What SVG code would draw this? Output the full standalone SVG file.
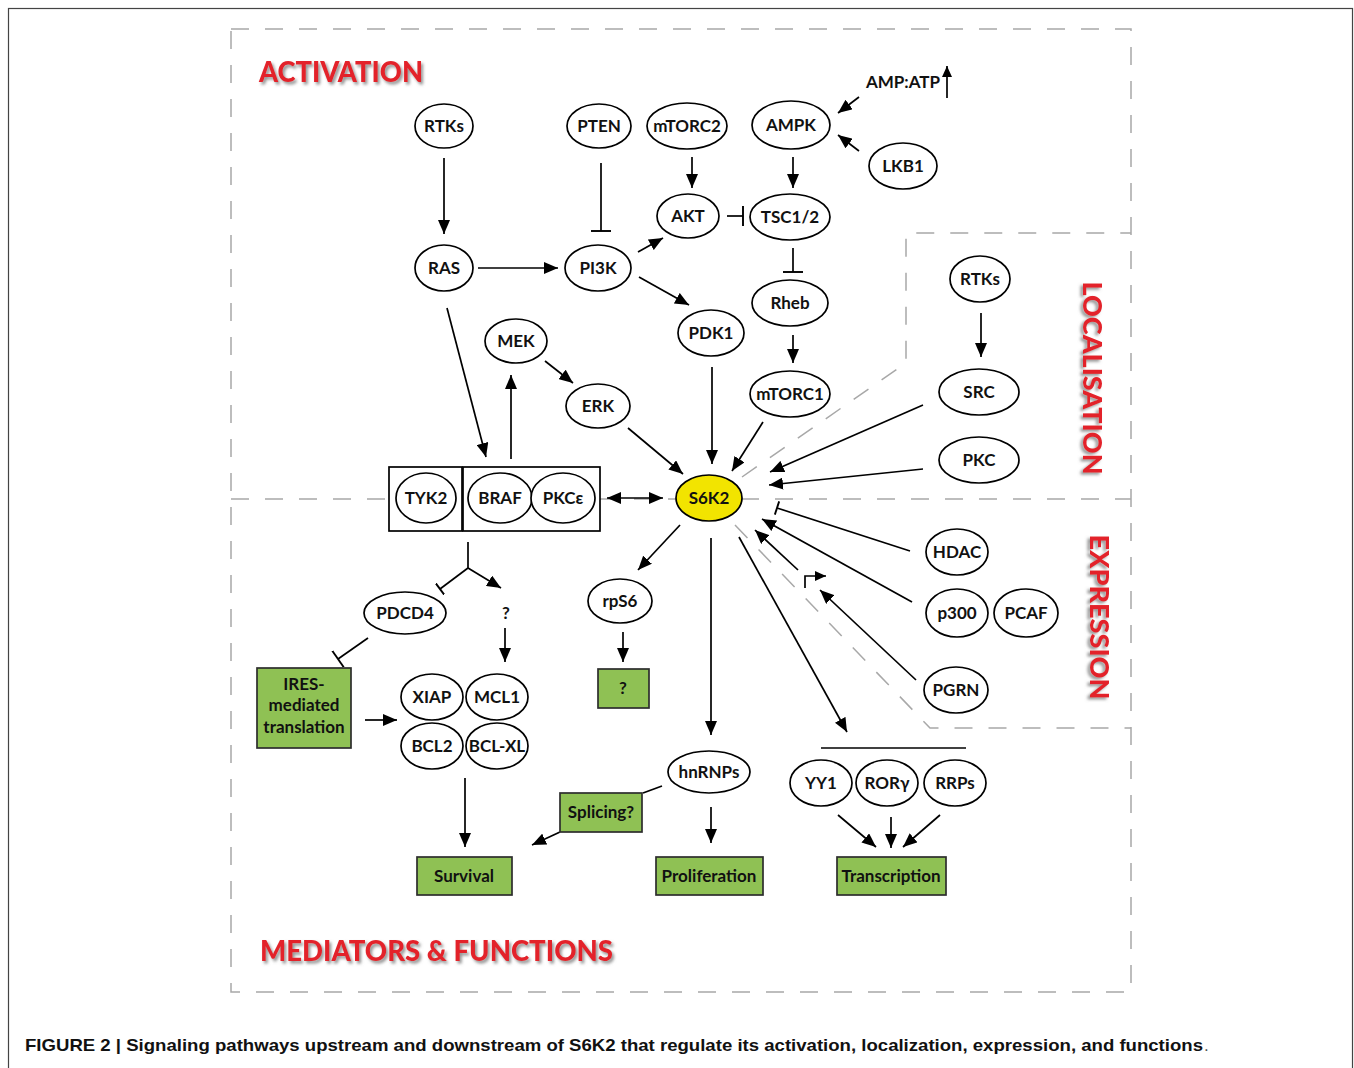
<svg xmlns="http://www.w3.org/2000/svg" width="1354" height="1068" viewBox="0 0 1354 1068">
<defs>
<style>
.n{fill:#fff;stroke:#000;stroke-width:1.7}
.y{fill:#f2e400;stroke:#000;stroke-width:1.7}
.g{fill:#8fc154;stroke:#2d2d2d;stroke-width:1.7}
.bx{fill:none;stroke:#000;stroke-width:1.7}
.t{font-family:Lato,"Open Sans","DejaVu Sans",sans-serif;font-weight:700;font-size:17px;text-anchor:middle;fill:#111}
.c path{fill:none;stroke:#000;stroke-width:1.7}
.d{fill:none;stroke:#a8a8a8;stroke-width:1.5;stroke-dasharray:18 16}
.h{font-family:Lato,"Open Sans",sans-serif;font-weight:900;fill:#e3242b;filter:url(#sh)}
</style>
<filter id="sh" x="-10%" y="-30%" width="130%" height="170%">
<feDropShadow dx="2" dy="2.5" stdDeviation="1.6" flood-color="#777" flood-opacity="0.8"/>
</filter>
<marker id="a" viewBox="0 0 14 12" refX="14" refY="6" markerWidth="14" markerHeight="12" orient="auto-start-reverse" markerUnits="userSpaceOnUse"><path d="M0,0 L14,6 L0,12 z" fill="#000"/></marker>
<marker id="as" viewBox="0 0 11 10" refX="11" refY="5" markerWidth="11" markerHeight="10" orient="auto" markerUnits="userSpaceOnUse"><path d="M0,0 L11,5 L0,10 z" fill="#000"/></marker>
<marker id="tee" viewBox="0 0 4 20" refX="2" refY="10" markerWidth="4" markerHeight="20" orient="auto" markerUnits="userSpaceOnUse"><line x1="2" y1="0" x2="2" y2="20" stroke="#000" stroke-width="1.9"/></marker>
<marker id="tees" viewBox="0 0 4 14" refX="2" refY="7" markerWidth="4" markerHeight="14" orient="auto" markerUnits="userSpaceOnUse"><line x1="2" y1="0" x2="2" y2="14" stroke="#000" stroke-width="1.9"/></marker>
</defs>
<rect width="1354" height="1068" fill="#fff"/>
<rect x="8.5" y="8.5" width="1344" height="1100" fill="none" stroke="#444" stroke-width="1.2"/>

<g id="regions">
<rect class="d" x="231" y="29" width="900" height="963"/>
<path class="d" d="M231,499 H389"/>
<path class="d" d="M600,499 H677"/>
<path class="d" d="M741,499 H1131"/>
<path class="d" d="M742,477 L906,363 L906,233 L1131,233"/>
<path class="d" d="M735,525 L930,728 L1131,728"/>
</g>

<g id="titles">
<text class="h" x="259" y="82" font-size="29" textLength="164" lengthAdjust="spacingAndGlyphs">ACTIVATION</text>
<text class="h" x="260" y="961" font-size="29" textLength="353" lengthAdjust="spacingAndGlyphs">MEDIATORS &amp; FUNCTIONS</text>
<text class="h" font-size="27" text-anchor="middle" transform="translate(1093,378) rotate(90)" y="10" textLength="193" lengthAdjust="spacingAndGlyphs">LOCALISATION</text>
<text class="h" font-size="27" text-anchor="middle" transform="translate(1100,617) rotate(90)" y="10" textLength="165" lengthAdjust="spacingAndGlyphs">EXPRESSION</text>
</g>

<g id="connectors" class="c">
<path d="M444,158 V234" marker-end="url(#a)"/>
<path d="M601,163 V231" marker-end="url(#tee)"/>
<path d="M478,268 H558" marker-end="url(#a)"/>
<path d="M638,252 L663,238" marker-end="url(#a)"/>
<path d="M639,277 L689,305" marker-end="url(#a)"/>
<path d="M692,157 V188" marker-end="url(#a)"/>
<path d="M793,157 V188" marker-end="url(#a)"/>
<path d="M727,216 H743" marker-end="url(#tee)"/>
<path d="M793,248 V272" marker-end="url(#tee)"/>
<path d="M859,97 L838,113" marker-end="url(#a)"/>
<path d="M859,151 L838,135" marker-end="url(#a)"/>
<path d="M947,98 V66" marker-end="url(#as)"/>
<path d="M793,335 V363" marker-end="url(#a)"/>
<path d="M447,308 L486,457" marker-end="url(#a)"/>
<path d="M511,459 V375" marker-end="url(#a)"/>
<path d="M545,361 L573,383" marker-end="url(#a)"/>
<path d="M628,428 L683,474" marker-end="url(#a)"/>
<path d="M712,367 V464" marker-end="url(#a)"/>
<path d="M763,422 L732,471" marker-end="url(#a)"/>
<path d="M981,313 V357" marker-end="url(#a)"/>
<path d="M923,405 L770,472" marker-end="url(#a)"/>
<path d="M923,469 L769,485" marker-end="url(#a)"/>
<path d="M607,498 H663" marker-start="url(#a)" marker-end="url(#a)"/>
<path d="M910,551 L777,508" marker-end="url(#tees)"/>
<path d="M912,602 L762,519" marker-end="url(#a)"/>
<path d="M798,570 L755,530" marker-end="url(#a)"/>
<path d="M805,588 V576 H826" marker-end="url(#as)"/>
<path d="M916,680 L820,590" stroke-width="2.5" marker-end="url(#a)"/>
<path d="M739,537 L847,732" marker-end="url(#a)"/>
<path d="M821,748 H966"/>
<path d="M838,815 L876,847" marker-end="url(#a)"/>
<path d="M891,817 V848" marker-end="url(#a)"/>
<path d="M940,815 L903,847" marker-end="url(#a)"/>
<path d="M680,525 L638,570" marker-end="url(#a)"/>
<path d="M623,632 V662" marker-end="url(#a)"/>
<path d="M711,538 V735" marker-end="url(#a)"/>
<path d="M711,807 V843" marker-end="url(#a)"/>
<path d="M662,786 L643,793"/>
<path d="M560,832 L532,845" marker-end="url(#a)"/>
<path d="M465,778 V847" marker-end="url(#a)"/>
<path d="M365,720 H397" marker-end="url(#a)"/>
<path d="M368,638 L338,659" marker-end="url(#tee)"/>
<path d="M468,542 V568"/>
<path d="M468,568 L440,589" marker-end="url(#tees)"/>
<path d="M468,568 L501,588" marker-end="url(#a)"/>
<path d="M505,628 V662" marker-end="url(#a)"/>
</g>

<g id="node-rtks1"><ellipse class="n" cx="444" cy="126" rx="29" ry="22"/><text class="t" x="444" y="132">RTKs</text></g>
<g id="node-pten"><ellipse class="n" cx="599" cy="126" rx="32" ry="22"/><text class="t" x="599" y="132">PTEN</text></g>
<g id="node-mtorc2"><ellipse class="n" cx="687" cy="126" rx="40" ry="23"/><text class="t" x="687" y="132">mTORC2</text></g>
<g id="node-ampk"><ellipse class="n" cx="791" cy="125" rx="39" ry="24"/><text class="t" x="791" y="131">AMPK</text></g>
<g id="node-ampatp"><text class="t" x="903" y="88">AMP:ATP</text></g>
<g id="node-lkb1"><ellipse class="n" cx="903" cy="166" rx="34" ry="23"/><text class="t" x="903" y="172">LKB1</text></g>
<g id="node-akt"><ellipse class="n" cx="688" cy="216" rx="31" ry="22"/><text class="t" x="688" y="222">AKT</text></g>
<g id="node-tsc"><ellipse class="n" cx="790" cy="217" rx="40" ry="23"/><text class="t" x="790" y="223">TSC1/2</text></g>
<g id="node-ras"><ellipse class="n" cx="444" cy="268" rx="29" ry="23"/><text class="t" x="444" y="274">RAS</text></g>
<g id="node-pi3k"><ellipse class="n" cx="598" cy="268" rx="33" ry="23"/><text class="t" x="598" y="274">PI3K</text></g>
<g id="node-rheb"><ellipse class="n" cx="790" cy="303" rx="38" ry="23"/><text class="t" x="790" y="309">Rheb</text></g>
<g id="node-pdk1"><ellipse class="n" cx="711" cy="333" rx="33" ry="23"/><text class="t" x="711" y="339">PDK1</text></g>
<g id="node-mek"><ellipse class="n" cx="516" cy="341" rx="31" ry="22"/><text class="t" x="516" y="347">MEK</text></g>
<g id="node-erk"><ellipse class="n" cx="598" cy="406" rx="32" ry="22"/><text class="t" x="598" y="412">ERK</text></g>
<g id="node-mtorc1"><ellipse class="n" cx="790" cy="394" rx="40" ry="23"/><text class="t" x="790" y="400">mTORC1</text></g>
<g id="node-rtks2"><ellipse class="n" cx="980" cy="279" rx="30" ry="23"/><text class="t" x="980" y="285">RTKs</text></g>
<g id="node-src"><ellipse class="n" cx="979" cy="392" rx="40" ry="23"/><text class="t" x="979" y="398">SRC</text></g>
<g id="node-pkc"><ellipse class="n" cx="979" cy="460" rx="40" ry="23"/><text class="t" x="979" y="466">PKC</text></g>
<g id="node-s6k2"><ellipse class="y" cx="709" cy="498" rx="33" ry="23"/><text class="t" x="709" y="504">S6K2</text></g>
<g id="node-complex">
<rect class="bx" x="389" y="467" width="73" height="64"/>
<rect class="bx" x="463" y="467" width="137" height="64"/>
<ellipse class="n" cx="426" cy="498" rx="30" ry="25"/><text class="t" x="426" y="504">TYK2</text>
<ellipse class="n" cx="500" cy="498" rx="32" ry="25"/><text class="t" x="500" y="504">BRAF</text>
<ellipse class="n" cx="563" cy="498" rx="32" ry="25"/><text class="t" x="563" y="504">PKCε</text>
</g>
<g id="node-hdac"><ellipse class="n" cx="957" cy="552" rx="31" ry="23"/><text class="t" x="957" y="558">HDAC</text></g>
<g id="node-p300"><ellipse class="n" cx="957" cy="613" rx="31" ry="24"/><text class="t" x="957" y="619">p300</text></g>
<g id="node-pcaf"><ellipse class="n" cx="1026" cy="613" rx="32" ry="24"/><text class="t" x="1026" y="619">PCAF</text></g>
<g id="node-pgrn"><ellipse class="n" cx="956" cy="690" rx="32" ry="23"/><text class="t" x="956" y="696">PGRN</text></g>
<g id="node-pdcd4"><ellipse class="n" cx="405" cy="613" rx="41" ry="21"/><text class="t" x="405" y="619">PDCD4</text></g>
<g id="node-q1"><text class="t" x="506" y="619">?</text></g>
<g id="node-rps6"><ellipse class="n" cx="620" cy="601" rx="32" ry="22"/><text class="t" x="620" y="607">rpS6</text></g>
<g id="node-q2"><rect class="g" x="598" y="669" width="51" height="39"/><text class="t" x="623" y="694">?</text></g>
<g id="node-ires"><rect class="g" x="257" y="668" width="94" height="80"/><text class="t" x="304" y="690">IRES-</text><text class="t" x="304" y="711">mediated</text><text class="t" x="304" y="733">translation</text></g>
<g id="node-xiap"><ellipse class="n" cx="432" cy="697" rx="31" ry="23"/><text class="t" x="432" y="703">XIAP</text></g>
<g id="node-mcl1"><ellipse class="n" cx="497" cy="697" rx="31" ry="23"/><text class="t" x="497" y="703">MCL1</text></g>
<g id="node-bcl2"><ellipse class="n" cx="432" cy="746" rx="31" ry="23"/><text class="t" x="432" y="752">BCL2</text></g>
<g id="node-bclxl"><ellipse class="n" cx="497" cy="746" rx="31" ry="23"/><text class="t" x="497" y="752">BCL-XL</text></g>
<g id="node-hnrnps"><ellipse class="n" cx="709" cy="772" rx="41" ry="21"/><text class="t" x="709" y="778">hnRNPs</text></g>
<g id="node-splicing"><rect class="g" x="560" y="793" width="82" height="39"/><text class="t" x="601" y="818">Splicing?</text></g>
<g id="node-survival"><rect class="g" x="417" y="857" width="95" height="38"/><text class="t" x="464" y="882">Survival</text></g>
<g id="node-proliferation"><rect class="g" x="656" y="857" width="107" height="38"/><text class="t" x="709" y="882">Proliferation</text></g>
<g id="node-transcription"><rect class="g" x="837" y="857" width="109" height="38"/><text class="t" x="891" y="882">Transcription</text></g>
<g id="node-yy1"><ellipse class="n" cx="821" cy="783" rx="31" ry="23"/><text class="t" x="821" y="789">YY1</text></g>
<g id="node-rorg"><ellipse class="n" cx="887" cy="783" rx="31" ry="23"/><text class="t" x="887" y="789">RORγ</text></g>
<g id="node-rrps"><ellipse class="n" cx="955" cy="783" rx="31" ry="23"/><text class="t" x="955" y="789">RRPs</text></g>

<g id="caption">
<text x="25" y="1051" font-family="'Liberation Sans',Arial,sans-serif" font-weight="700" font-size="17" fill="#111" textLength="1178" lengthAdjust="spacingAndGlyphs">FIGURE 2 | Signaling pathways upstream and downstream of S6K2 that regulate its activation, localization, expression, and functions</text>
<text x="1204" y="1051" font-family="'Liberation Sans',Arial,sans-serif" font-size="17" fill="#555">.</text>
</g>
</svg>
